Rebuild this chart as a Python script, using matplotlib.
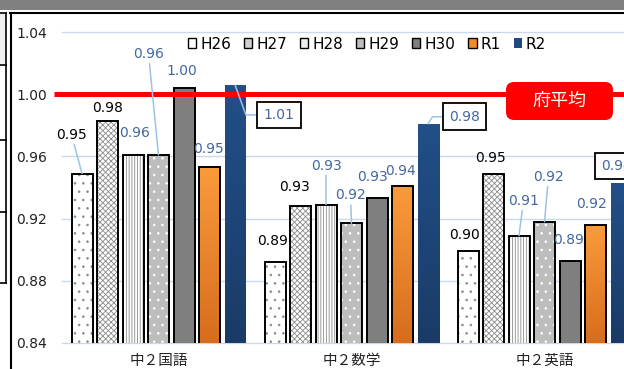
import matplotlib.pyplot as plt
import numpy as np
from matplotlib.patches import Rectangle, FancyBboxPatch, Patch
from matplotlib.colors import LinearSegmentedColormap
from matplotlib.transforms import blended_transform_factory

plt.rcParams['font.family'] = ['DejaVu Sans', 'Noto Sans CJK JP']
plt.rcParams['hatch.linewidth'] = 0.6

# data
subjects = ['中２国語', '中２数学', '中２英語']
years = ['H26', 'H27', 'H28', 'H29', 'H30', 'R1', 'R2']
h26 = [0.949, 0.892, 0.899]
h27 = [0.983, 0.928, 0.949]
h28 = [0.961, 0.929, 0.909]
h29 = [0.961, 0.917, 0.918]
h30 = [1.004, 0.933, 0.893]
r1 = [0.953, 0.941, 0.916]
r2 = [1.006, 0.981, 0.943]
fu_avg = 1.00
y_ticks = [0.84, 0.88, 0.92, 0.96, 1.00, 1.04]
series = [h26, h27, h28, h29, h30, r1, r2]

# styles
BLUE_TXT = '#44679e'
LEADER = '#9dc3e6'
GRID = '#c9d8ec'
styles = {
    'H26': dict(fc='white', hatch='..', hc='#8a8a8a', leg='white'),
    'H27': dict(fc='white', hatch='xxxxxx', hc='#8c8c8c', leg='#d0d0d0'),
    'H28': dict(fc='white', hatch='||||||', hc='#8c8c8c', leg='#eeeeee'),
    'H29': dict(fc='#bdbdbd', hatch='..', hc='white', leg='#bdbdbd'),
    'H30': dict(fc='#7f7f7f', hatch=None, hc=None, leg='#7f7f7f'),
    'R1': dict(fc='#f08a2a', hatch=None, hc=None, leg='#f08a2a',
               grad=('#d76d1d', '#fa9b3b')),
    'R2': dict(fc='#1f4a80', hatch=None, hc=None, leg='#1f4a80',
               grad=('#1a3b67', '#224f88'), noedge=True),
}

# label offsets in pixels (dx, dy) from bar top, per group
label_off = {
    'H26': [(-10.5, 39), (-2.5, 21), (-3.5, 16)],
    'H27': [(0, 13), (-6, 19), (-3, 16)],
    'H28': [(1.5, 22), (0, 39), (4.5, 35)],
    'H29': [(-10, 101), (-1, 28), (4, 45)],
    'H30': [(-2.5, 17), (-4.5, 21), (-1.5, 21)],
    'R1': [(-1, 18), (-2, 15), (-4, 21)],
    'R2': [(44, -30), (36.5, 7), (-4, 17)],
}
leaders = {('H26', 0), ('H29', 0), ('H28', 1), ('H29', 1), ('H28', 2), ('H29', 2)}
elbow_angle = {0: -70, 1: 57}

fig = plt.figure(figsize=(6.24, 3.69), dpi=100)
ax = fig.add_axes([62 / 624, 26 / 369, 579 / 624, 311 / 369])

pitch = 25.5 / 193
width = 21 / 193
xg = np.arange(len(subjects))
ymin, ymax = y_ticks[0], y_ticks[-1]

for i, (yr, vals) in enumerate(zip(years, series)):
    st = styles[yr]
    x = xg + (i - 3) * pitch
    if st['hatch']:
        ax.bar(x, vals, width, color=st['fc'], hatch=st['hatch'],
               edgecolor=st['hc'], linewidth=0, zorder=2)
    else:
        bars = ax.bar(x, vals, width, color=st['fc'], linewidth=0, zorder=2)
        if 'grad' in st:
            cmap = LinearSegmentedColormap.from_list(yr, list(st['grad']))
            for b in bars:
                x0 = b.get_x()
                im = ax.imshow(np.linspace(0, 1, 64).reshape(-1, 1), cmap=cmap,
                               extent=[x0, x0 + b.get_width(), ymin, b.get_height()],
                               origin='lower', aspect='auto', zorder=2.5)
                im.set_clip_path(b)
    if not st.get('noedge'):
        ax.bar(x, vals, width, fill=False, edgecolor='black', linewidth=1.4, zorder=3)

    for g, v in enumerate(vals):
        dx, dy = label_off[yr][g]
        color = 'black' if yr in ('H26', 'H27') else BLUE_TXT
        kw = dict(xy=(x[g], v), xytext=(dx, dy), textcoords='offset pixels',
                  ha='center', va='center', fontsize=10, color=color, zorder=6,
                  annotation_clip=False)
        if yr == 'R2':
            kw['bbox'] = dict(boxstyle='square,pad=0.45', fc='white', ec='black', lw=1.3)
            if g in elbow_angle:
                kw['arrowprops'] = dict(arrowstyle='-', color=LEADER, lw=1.1,
                                        shrinkA=0, shrinkB=0,
                                        connectionstyle=f'angle,angleA=0,angleB={elbow_angle[g]},rad=0')
        elif (yr, g) in leaders:
            kw['arrowprops'] = dict(arrowstyle='-', color=LEADER, lw=1.1, shrinkA=0, shrinkB=0)
        ax.annotate(f'{v:.2f}', **kw)

# fu average line
tr = blended_transform_factory(ax.transAxes, ax.transData)
ax.plot([-0.014, 1.0], [fu_avg, fu_avg], color='#ff0000', lw=3.6, transform=tr,
        clip_on=False, zorder=5, solid_capstyle='butt')

ax.set_xlim(-0.5, 2.5)
ax.set_ylim(ymin, ymax)
ax.set_yticks(y_ticks)
ax.set_yticklabels([f'{t:.2f}' for t in y_ticks])
ax.set_xticks(xg)
ax.set_xticklabels(subjects)
ax.tick_params(axis='y', length=0, pad=11, labelsize=10, labelcolor='#222222')
ax.tick_params(axis='x', length=0, pad=7, labelsize=10.5, labelcolor='#222222')
ax.grid(axis='y', color=GRID, lw=1.0, zorder=0)
ax.set_axisbelow(True)
for gl in ax.get_ygridlines():
    gl.set_clip_on(False)
for s in ax.spines.values():
    s.set_visible(False)

handles = []
for yr in years:
    st = styles[yr]
    ec = 'none' if st.get('noedge') else 'black'
    handles.append(Patch(facecolor=st['leg'], edgecolor=ec, lw=1.0))
ax.legend(handles, years, loc='center left', bbox_to_anchor=(0.2176, 0.9614), ncol=7,
          frameon=False, fontsize=11, handlelength=0.55, handleheight=0.55,
          handletextpad=0.25, columnspacing=0.85, borderpad=0, borderaxespad=0)

# surrounding frame and red tag, in pixel coordinates
ov = fig.add_axes([0, 0, 1, 1], zorder=5)
ov.set_xlim(0, 624)
ov.set_ylim(369, 0)
ov.axis('off')
ov.patch.set_alpha(0)
ov.add_patch(Rectangle((0, 0), 624, 10, color='#808080', lw=0))
ov.add_patch(Rectangle((0, 13), 6, 52, color='#efefef', lw=0))
ov.plot([10, 624], [13, 13], color='black', lw=1.5)
ov.plot([11, 11], [13, 369], color='black', lw=1.5)
ov.plot([6, 6], [13, 283], color='black', lw=1.2)
for yy in [13, 65, 140, 212, 283]:
    ov.plot([0, 6], [yy, yy], color='black', lw=1.2)
ov.add_patch(FancyBboxPatch((506, 82), 107, 38, boxstyle='round,pad=0,rounding_size=8',
                            fc='#ff0000', ec='none'))
ov.text(559.5, 101, '府平均', color='white', fontsize=13, ha='center', va='center',
        family=['Noto Sans CJK JP'])

fig.savefig('out.png', dpi=100)
